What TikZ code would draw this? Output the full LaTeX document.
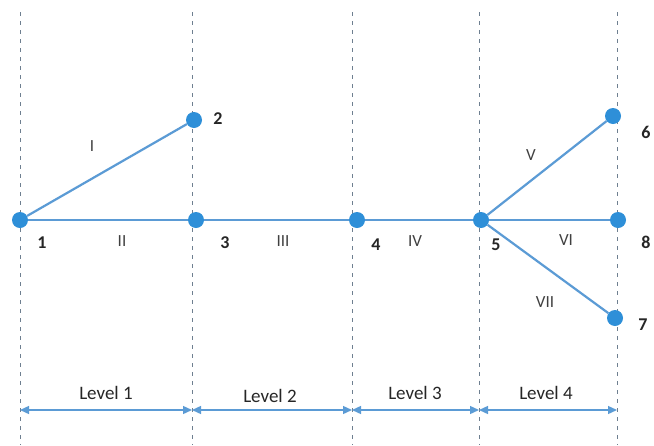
\documentclass[tikz,border=0pt]{standalone}
\usepackage{fontspec}
\setmainfont{Carlito}
\usetikzlibrary{arrows.meta}
\definecolor{edgeblue}{HTML}{5B9BD5}
\definecolor{dotblue}{HTML}{2E8FD8}
\definecolor{guide}{HTML}{6E7F90}
\tikzset{
  vtx/.style={circle,fill=dotblue,inner sep=0pt,minimum size=16pt},
  edge/.style={draw=edgeblue,line width=2.2pt},
  guideline/.style={draw=guide,line width=0.7pt,dash pattern=on 4pt off 5pt},
  num/.style={font=\fontsize{18}{20}\selectfont\bfseries,text=black!85},
  elab/.style={font=\fontsize{17}{19}\selectfont,text=black!75},
  lvl/.style={font=\fontsize{19}{21}\selectfont,text=black!85},
  span/.style={draw=edgeblue,line width=1.3pt,{Triangle[width=8pt,length=9pt]}-{Triangle[width=8pt,length=9pt]}}
}
\begin{document}
\begin{tikzpicture}[x=1pt,y=-1pt]
\useasboundingbox (0,0) rectangle (654,445);
\fill[white] (0,0) rectangle (654,445);
% guides
\foreach \gx/\gn in {20/g1,192/g2,352/g3,479/g4,617/g5}{
  \coordinate (\gn t) at (\gx,12);
  \coordinate (\gn b) at (\gx,445);
  \draw[guideline] (\gn t) -- (\gn b);
}
% vertices
\node[vtx] (n1) at (20,220) {};
\node[vtx] (n2) at (194,120) {};
\node[vtx] (n3) at (196,220) {};
\node[vtx] (n4) at (357,220) {};
\node[vtx] (n5) at (481,220) {};
\node[vtx] (n6) at (613,116) {};
\node[vtx] (n8) at (618,220) {};
\node[vtx] (n7) at (615,318) {};
% edges
\draw[edge] (n1) -- (n2);
\draw[edge] (n1) -- (n3);
\draw[edge] (n3) -- (n4);
\draw[edge] (n4) -- (n5);
\draw[edge] (n5) -- (n6);
\draw[edge] (n5) -- (n8);
\draw[edge] (n5) -- (n7);
% vertex numbers
\node[num] (l1) at (42,243) {1};
\node[num] (l2) at (218,119) {2};
\node[num] (l3) at (225,243) {3};
\node[num] (l4) at (376,245) {4};
\node[num] (l5) at (496,245) {5};
\node[num] (l6) at (646,132) {6};
\node[num] (l8) at (646,242) {8};
\node[num] (l7) at (643,325) {7};
% edge labels
\node[elab] (e1) at (92,146) {I};
\node[elab] (e2) at (122,241) {II};
\node[elab] (e3) at (283,241) {III};
\node[elab] (e4) at (415,241) {IV};
\node[elab] (e5) at (531,155) {V};
\node[elab] (e6) at (566,240) {VI};
\node[elab] (e7) at (545,302) {VII};
% levels
\draw[span] (g1t |- 0,410) coordinate (a1) -- (g2t |- 0,410) coordinate (a2);
\draw[span] (a2) -- (g3t |- 0,410) coordinate (a3);
\draw[span] (a3) -- (g4t |- 0,410) coordinate (a4);
\draw[span] (a4) -- (g5t |- 0,410) coordinate (a5);
\node[lvl] (v1) at (106,393) {Level 1};
\node[lvl] (v2) at (270,396) {Level 2};
\node[lvl] (v3) at (415,393) {Level 3};
\node[lvl] (v4) at (546,393) {Level 4};
\end{tikzpicture}
\end{document}
